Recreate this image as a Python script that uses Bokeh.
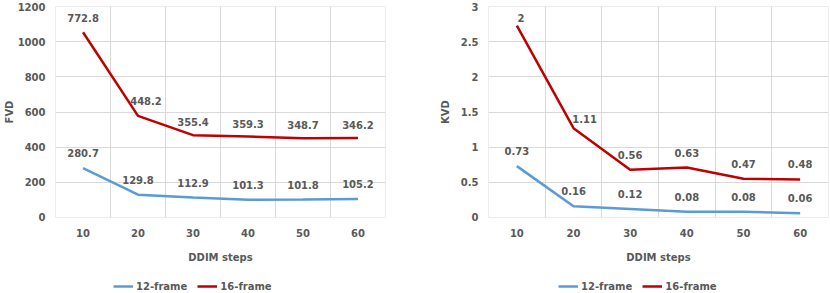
from bokeh.plotting import figure
from bokeh.layouts import row, column
from bokeh.models import ColumnDataSource, FixedTicker, Range1d, Legend, LegendItem
from bokeh.core.properties import value
from bokeh.embed import file_html
from bokeh.resources import INLINE

# ---------------- data ----------------
steps = [10, 20, 30, 40, 50, 60]
fvd_12 = [280.7, 129.8, 112.9, 101.3, 101.8, 105.2]
fvd_16 = [772.8, 448.2, 355.4, 359.3, 348.7, 346.2]
kvd_12 = [0.73, 0.16, 0.12, 0.08, 0.08, 0.06]
kvd_16 = [2, 1.11, 0.56, 0.63, 0.47, 0.48]
fvd_ticks = [0, 200, 400, 600, 800, 1000, 1200]
kvd_ticks = [0, 0.5, 1, 1.5, 2, 2.5, 3]
kvd_tick_labels = ["0", "0.5", "1", "1.5", "2", "2.5", "3"]
series_names = ["12-frame", "16-frame"]

# ---------------- style ----------------
BLUE = "#5B9BD5"
RED = "#C00000"
TXT = "#595959"
GRID = "#D9D9D9"
FONT = "DejaVu Sans"
FS = "10px"
grid_edges = [5, 15, 25, 35, 45, 55, 65]

# label offsets in screen pixels (style only)
fvd12_dx = [0, 0, 0, 0, 0, 0]
fvd12_dy = [-15, -15, -15, -15, -15, -15]
fvd16_dx = [0, 8, 0, 0, 0, 0]
fvd16_dy = [-14, -15, -13, -13, -13, -13]
kvd12_dx = [0, 0, 0, 0, 0, 0]
kvd12_dy = [-15, -15, -15, -15, -15, -15]
kvd16_dx = [4, 11, 0, 0, 0, 0]
kvd16_dy = [-8, -9, -15, -15, -15, -15]

CHART_H = 279
LEG_H = 14


def make_chart(ylabel, lower, upper, yticks, ylabels, y_end,
               border_left, border_right, lab_standoff,
               dx_lo, dy_lo, dx_up, dy_up):
    pad = y_end * 0.0002
    p = figure(width=415, height=CHART_H, output_backend="svg", toolbar_location=None,
               x_range=Range1d(4.995, 65.005), y_range=Range1d(-pad, y_end + pad),
               min_border_left=border_left, min_border_right=border_right,
               min_border_top=6, min_border_bottom=CHART_H - 217)
    p.outline_line_color = None
    p.background_fill_color = "white"
    p.border_fill_color = "white"

    # axes
    p.xaxis.ticker = FixedTicker(ticks=steps)
    p.yaxis.ticker = FixedTicker(ticks=yticks)
    if ylabels is not None:
        p.yaxis.major_label_overrides = {t: l for t, l in zip(yticks, ylabels)}
    for ax in (p.xaxis[0], p.yaxis[0]):
        ax.axis_line_color = None
        ax.major_tick_line_color = None
        ax.minor_tick_line_color = None
        ax.major_tick_out = 0
        ax.major_tick_in = 0
        ax.major_label_text_font = FONT
        ax.major_label_text_font_style = "bold"
        ax.major_label_text_font_size = FS
        ax.major_label_text_color = TXT
        ax.axis_label_text_font = FONT
        ax.axis_label_text_font_style = "bold"
        ax.axis_label_text_font_size = FS
        ax.axis_label_text_color = TXT
    p.yaxis.major_label_standoff = 10
    p.xaxis.major_label_standoff = 11
    p.xaxis.axis_label = "DDIM steps"
    p.xaxis.axis_label_standoff = 12
    p.yaxis.axis_label = ylabel
    p.yaxis.axis_label_standoff = lab_standoff

    # grids
    p.xgrid.ticker = FixedTicker(ticks=grid_edges)
    p.xgrid.grid_line_color = GRID
    p.ygrid.grid_line_color = GRID
    p.xgrid.grid_line_width = 1
    p.ygrid.grid_line_width = 1

    # stacked line chart
    stacked = [a + b for a, b in zip(lower, upper)]
    p.line(steps, lower, line_color=BLUE, line_width=2.5)
    p.line(steps, stacked, line_color=RED, line_width=2.5)

    # data labels
    for ys, vals, dx, dy in ((lower, lower, dx_lo, dy_lo), (stacked, upper, dx_up, dy_up)):
        src = ColumnDataSource(dict(x=steps, y=ys, t=[f"{v:g}" for v in vals], dx=dx, dy=dy))
        p.text(x="x", y="y", text="t", x_offset="dx", y_offset="dy", source=src,
               text_align="center", text_baseline="middle",
               text_font=value(FONT), text_font_style="bold",
               text_font_size=FS, text_color=TXT)
    return p


def make_legend(lower, upper, legend_x):
    # legend strip; its proxy lines hold the series but lie outside the 0..1 view
    lf = figure(width=415, height=LEG_H, output_backend="svg", toolbar_location=None,
                x_range=Range1d(0, 1), y_range=Range1d(0, 1),
                x_axis_location=None, y_axis_location=None,
                min_border_left=0, min_border_right=0, min_border_top=0, min_border_bottom=0)
    lf.outline_line_color = None
    lf.grid.visible = False
    lf.border_fill_color = "white"
    lf.background_fill_color = "white"
    r1 = lf.line(steps, lower, line_color=BLUE, line_width=2.5)
    r2 = lf.line(steps, upper, line_color=RED, line_width=2.5)
    legend = Legend(items=[LegendItem(label=series_names[0], renderers=[r1]),
                           LegendItem(label=series_names[1], renderers=[r2])],
                    orientation="horizontal", location=(legend_x, 0),
                    padding=0, margin=0, spacing=10, label_standoff=3,
                    glyph_width=20, glyph_height=LEG_H, label_height=LEG_H,
                    border_line_color=None, background_fill_alpha=0,
                    label_text_font=FONT, label_text_font_style="bold",
                    label_text_font_size=FS, label_text_color=TXT)
    lf.add_layout(legend, "center")
    return lf


p1 = make_chart("FVD", fvd_12, fvd_16, fvd_ticks, None, 1200,
                54, 30, 0, fvd12_dx, fvd12_dy, fvd16_dx, fvd16_dy)
p2 = make_chart("KVD", kvd_12, kvd_16, kvd_ticks, kvd_tick_labels, 3,
                73, 2, 7, kvd12_dx, kvd12_dy, kvd16_dx, kvd16_dy)
l1 = make_legend(fvd_12, fvd_16, 113)
l2 = make_legend(kvd_12, kvd_16, 143)

p = column(row(p1, p2), row(l1, l2))

open("out.html", "w").write(file_html(p, INLINE))
